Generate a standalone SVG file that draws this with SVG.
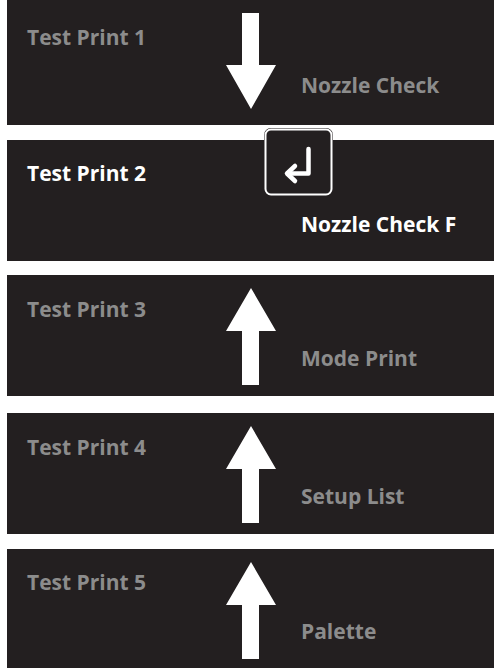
<svg xmlns="http://www.w3.org/2000/svg" width="494" height="668" viewBox="0 0 494 668">
  <style>
    .panel { fill: #231f20; }
    .t { font-family: "Open Sans", "Liberation Sans", sans-serif; font-weight: 700; font-size: 21px; }
    .dim { fill: #8c8c8c; }
    .lit { fill: #ffffff; }
    .arrow { fill: #ffffff; }
  </style>
  <rect width="494" height="668" fill="#ffffff"/>

  <g id="panel1">
    <rect class="panel" x="7" y="0" width="487" height="125"/>
    <text class="t dim" x="27" y="45">Test Print 1</text>
    <text class="t dim" x="301" y="93">Nozzle Check</text>
  </g>

  <g id="panel2">
    <rect class="panel" x="7" y="140" width="487" height="121"/>
    <text class="t lit" x="27" y="181">Test Print 2</text>
    <text class="t lit" x="301" y="232">Nozzle Check F</text>
    <g id="enter-key">
      <rect x="264" y="128" width="69" height="68" rx="7" fill="#231f20"/>
      <rect x="265.5" y="129.5" width="66" height="65" rx="5.5" fill="#231f20" stroke="#ffffff" stroke-width="2"/>
      <path d="M308.5,149 V173.5 H288" fill="none" stroke="#ffffff" stroke-width="4.5" stroke-linecap="round" stroke-linejoin="round"/>
      <path d="M295,166 L287,173.5 L295,181" fill="none" stroke="#ffffff" stroke-width="4.5" stroke-linecap="round" stroke-linejoin="round"/>
    </g>
  </g>

  <g id="panel3">
    <rect class="panel" x="7" y="275" width="487" height="121"/>
    <text class="t dim" x="27" y="317">Test Print 3</text>
    <text class="t dim" x="301" y="366">Mode Print</text>
  </g>

  <g id="panel4">
    <rect class="panel" x="7" y="413" width="487" height="121"/>
    <text class="t dim" x="27" y="455">Test Print 4</text>
    <text class="t dim" x="301" y="504">Setup List</text>
  </g>

  <g id="panel5">
    <rect class="panel" x="7" y="549" width="487" height="119"/>
    <text class="t dim" x="27" y="590">Test Print 5</text>
    <text class="t dim" x="301" y="639">Palette</text>
  </g>

  <g id="connectors">
    <polygon class="arrow" points="242,13 259,13 259,65 276,65 251,109 226,65 242,65"/>
    <polygon class="arrow" points="251,288 276,331 259,331 259,385 242,385 242,331 226,331"/>
    <polygon class="arrow" points="251,426 276,469 259,469 259,523 242,523 242,469 226,469"/>
    <polygon class="arrow" points="251,562 276,605 259,605 259,659 242,659 242,605 226,605"/>
  </g>
</svg>
